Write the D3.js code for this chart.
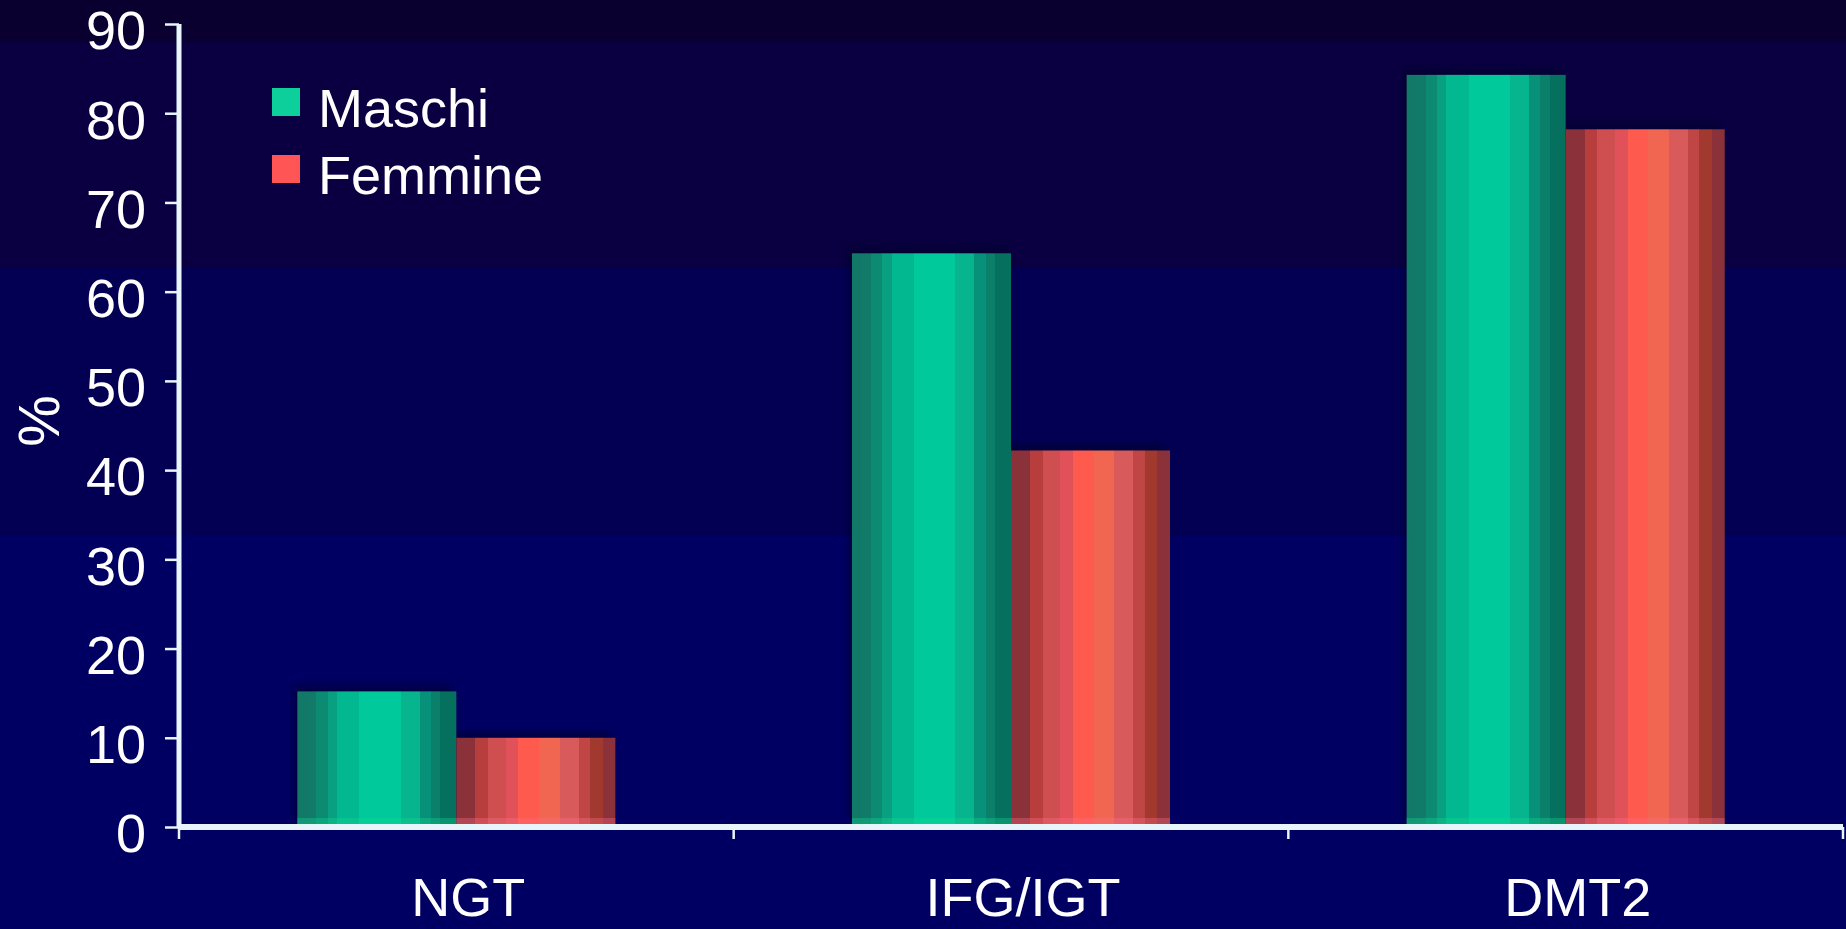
<!DOCTYPE html>
<html>
<head>
<meta charset="utf-8">
<script src="https://cdn.jsdelivr.net/npm/d3@7/dist/d3.min.js"></script>
<style>
  html, body { margin: 0; padding: 0; background: #000063; overflow: hidden; }
  svg { display: block; }
  text { font-family: "Liberation Sans", Arial, sans-serif; fill: #ffffff; }
</style>
</head>
<body>
<svg id="chart" width="1846" height="929"></svg>
<script>
// Prevalence by glucose tolerance class, per sex (%)
const categories = ["NGT", "IFG/IGT", "DMT2"];
const seriesNames = ["Maschi", "Femmine"];
const maschi = [15.2, 64.3, 84.3];
const femmine = [10, 42.2, 78.2];
const yTicks = [0, 10, 20, 30, 40, 50, 60, 70, 80, 90];
const yLabel = "%";

const W = 1846, H = 929;
const svg = d3.select("#chart");
const defs = svg.append("defs");

// Background: banded dark gradient, purple at the top to navy below
const bands = [
  { y0: 0, y1: 42, c: "#090030" },
  { y0: 42, y1: 268, c: "#0a0041" },
  { y0: 268, y1: 536, c: "#030053" },
  { y0: 536, y1: H, c: "#000063" }
];
svg.append("g").selectAll("rect").data(bands).join("rect")
  .attr("x", 0).attr("y", d => d.y0).attr("width", W).attr("height", d => d.y1 - d.y0)
  .attr("fill", d => d.c);

// Cylinder-like banded fills
const stripes = {
  Maschi: [
    [0.00, "#127868"], [0.06, "#117a68"], [0.12, "#0c8a72"], [0.19, "#08a080"],
    [0.25, "#02b890"], [0.39, "#00c99b"], [0.65, "#06b48d"], [0.77, "#08917a"],
    [0.84, "#0a806a"], [0.90, "#06705f"], [1.00, "#06705f"]
  ],
  Femmine: [
    [0.00, "#8b3139"], [0.12, "#b83d3d"], [0.20, "#cf4f50"], [0.31, "#e0515a"],
    [0.39, "#ff5a4e"], [0.52, "#f06651"], [0.65, "#d95a5a"], [0.77, "#c04646"],
    [0.84, "#a2392f"], [0.92, "#8b3139"], [1.00, "#8b3139"]
  ]
};
seriesNames.forEach(name => {
  const g = defs.append("linearGradient").attr("id", "grad-" + name)
    .attr("x1", 0).attr("x2", 1).attr("y1", 0).attr("y2", 0);
  const s = stripes[name];
  for (let i = 0; i < s.length - 1; i++) {
    g.append("stop").attr("offset", s[i][0]).attr("stop-color", s[i][1]);
    g.append("stop").attr("offset", s[i + 1][0]).attr("stop-color", s[i][1]);
  }
});
const shadow = defs.append("filter").attr("id", "soft")
  .attr("x", "-20%").attr("y", "-20%").attr("width", "140%").attr("height", "140%");
shadow.append("feGaussianBlur").attr("stdDeviation", 3);

const legendColors = { Maschi: "#0ccf9c", Femmine: "#ff5555" };
const baseGlow = { Maschi: "#12d892", Femmine: "#ff6f86" };

// Scales
const x0 = d3.scaleBand().domain(categories).range([179, 1843]).paddingInner(0).paddingOuter(0);
const x1 = d3.scaleBand().domain(seriesNames).range([0, x0.bandwidth()])
  .paddingInner(0).paddingOuter(0.744);
const y = d3.scaleLinear().domain([0, 90]).range([827, 24]);

const rows = categories.map((c, i) => ({
  cat: c,
  values: [{ key: "Maschi", v: maschi[i] }, { key: "Femmine", v: femmine[i] }]
}));

// Bars
const groups = svg.append("g").selectAll("g").data(rows).join("g")
  .attr("transform", d => `translate(${x0(d.cat)},0)`);

groups.selectAll("rect.shade").data(d => d.values).join("rect")
  .attr("class", "shade")
  .attr("x", d => x1(d.key) - 4).attr("y", d => y(d.v) - 6)
  .attr("width", x1.bandwidth()).attr("height", d => y(0) - y(d.v))
  .attr("fill", "#02002a").attr("opacity", 0.55).attr("filter", "url(#soft)");

groups.selectAll("rect.bar").data(d => d.values).join("rect")
  .attr("class", "bar")
  .attr("x", d => x1(d.key)).attr("y", d => y(d.v))
  .attr("width", x1.bandwidth()).attr("height", d => y(0) - y(d.v) - 3)
  .attr("fill", d => `url(#grad-${d.key})`);

// Light rim along the base of each bar
groups.selectAll("rect.rim").data(d => d.values).join("rect")
  .attr("class", "rim")
  .attr("x", d => x1(d.key)).attr("y", y(0) - 9)
  .attr("width", x1.bandwidth()).attr("height", 6)
  .attr("fill", d => baseGlow[d.key]).attr("opacity", 0.35);

// Axes
const axisColor = "#e8f6fb";
const yAxis = svg.append("g").attr("transform", "translate(179,0)")
  .call(d3.axisLeft(y).tickValues(yTicks).tickSize(14).tickPadding(19).tickFormat(d3.format("d")));
yAxis.select(".domain").attr("stroke", axisColor).attr("stroke-width", 5)
  .attr("d", `M0,${y(90)}V${y(0)}`);
yAxis.selectAll(".tick line").attr("stroke", axisColor).attr("stroke-width", 2.5);
yAxis.selectAll(".tick text")
  .attr("fill", "#ffffff").attr("font-size", 54)
  .attr("font-family", "'Liberation Sans', Arial, sans-serif")
  .attr("dy", "0.46em");

const xAxis = svg.append("g").attr("transform", `translate(0,${y(0)})`)
  .call(d3.axisBottom(x0).tickSize(0).tickPadding(0));
xAxis.select(".domain").attr("stroke", axisColor).attr("stroke-width", 6)
  .attr("d", `M179,0H1843`);
xAxis.selectAll(".tick text")
  .attr("fill", "#ffffff").attr("font-size", 54)
  .attr("font-family", "'Liberation Sans', Arial, sans-serif")
  .attr("dx", 12).attr("y", 89).attr("dy", 0);

// Category separators on the x axis
const sepX = [x0.range()[0]].concat(categories.map(c => x0(c) + x0.bandwidth()));
svg.append("g").selectAll("line").data(sepX).join("line")
  .attr("x1", d => d).attr("x2", d => d)
  .attr("y1", y(0)).attr("y2", y(0) + 12)
  .attr("stroke", axisColor).attr("stroke-width", 2.5);

// Y axis title
svg.append("text")
  .attr("transform", `translate(59,421) rotate(-90)`)
  .attr("text-anchor", "middle")
  .attr("font-size", 58)
  .text(yLabel);

// Legend
const legend = svg.append("g").selectAll("g").data(seriesNames).join("g")
  .attr("transform", (d, i) => `translate(272,${88 + i * 67})`);
legend.append("rect").attr("x", 0).attr("y", 0).attr("width", 28).attr("height", 28)
  .attr("fill", d => legendColors[d]);
legend.append("text").attr("x", 46).attr("y", 39).attr("font-size", 54).text(d => d);
</script>
</body>
</html>
